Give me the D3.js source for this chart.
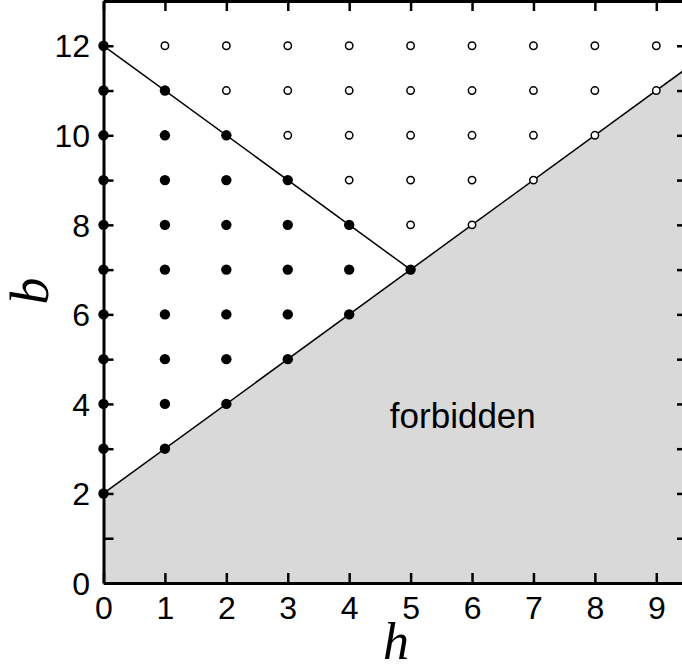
<!DOCTYPE html>
<html>
<head>
<meta charset="utf-8">
<script src="https://cdn.jsdelivr.net/npm/d3@7"></script>
<style>
  body { margin: 0; background: #fff; }
  svg { display: block; }
</style>
</head>
<body>
<svg width="682" height="665"></svg>
<script>
// Allowed states (filled) and other states (open), as [h, b] pairs
var filledPoints = [
  [0, 2], [0, 3], [0, 4], [0, 5], [0, 6], [0, 7], [0, 8], [0, 9], [0, 10], [0, 11], [0, 12],
  [1, 3], [1, 4], [1, 5], [1, 6], [1, 7], [1, 8], [1, 9], [1, 10], [1, 11],
  [2, 4], [2, 5], [2, 6], [2, 7], [2, 8], [2, 9], [2, 10],
  [3, 5], [3, 6], [3, 7], [3, 8], [3, 9],
  [4, 6], [4, 7], [4, 8],
  [5, 7]
];
var openPoints = [
  [1, 12],
  [2, 11], [2, 12],
  [3, 10], [3, 11], [3, 12],
  [4, 9], [4, 10], [4, 11], [4, 12],
  [5, 8], [5, 9], [5, 10], [5, 11], [5, 12],
  [6, 8], [6, 9], [6, 10], [6, 11], [6, 12],
  [7, 9], [7, 10], [7, 11], [7, 12],
  [8, 10], [8, 11], [8, 12],
  [9, 11], [9, 12]
];
// Boundary lines
var lowerLine = [[0, 2], [9.5, 11.5]];
var upperLine = [[0, 12], [5, 7]];
// Ticks
var xTicks = [0, 1, 2, 3, 4, 5, 6, 7, 8, 9];
var yTicks = [0, 1, 2, 3, 4, 5, 6, 7, 8, 9, 10, 11, 12, 13];
var yLabels = [0, 2, 4, 6, 8, 10, 12];

var svg = d3.select('svg');

var margin = { left: 103.5, top: 1, right: -5, bottom: 82 };
var width = 682 - margin.left - margin.right;
var height = 665 - margin.top - margin.bottom;

var x = d3.scaleLinear().domain([0, 9.5]).range([0, width]);
var y = d3.scaleLinear().domain([0, 13]).range([height, 0]);

var g = svg.append('g')
  .attr('transform', 'translate(' + margin.left + ',' + margin.top + ')');

var line = d3.line()
  .x(function (d) { return x(d[0]); })
  .y(function (d) { return y(d[1]); });

// Forbidden region (below the lower line)
var forbidden = [[0, 0], lowerLine[0], lowerLine[1], [9.5, 0]];
g.append('path')
  .datum(forbidden)
  .attr('fill', '#d9d9d9')
  .attr('d', line);

g.append('path').datum(lowerLine)
  .attr('fill', 'none').attr('stroke', '#000').attr('stroke-width', 1.5)
  .attr('d', line);
g.append('path').datum(upperLine)
  .attr('fill', 'none').attr('stroke', '#000').attr('stroke-width', 1.5)
  .attr('d', line);

var labelFont = 'Liberation Sans, Arial, sans-serif';

g.append('text')
  .attr('x', x(5.85))
  .attr('y', y(3.47))
  .attr('text-anchor', 'middle')
  .attr('font-family', labelFont)
  .attr('font-size', 35)
  .text('forbidden');

// Axes (ticks point inward, MATLAB style)
var tickLen = 10;

var xAxisBottom = g.append('g')
  .attr('transform', 'translate(0,' + height + ')')
  .call(d3.axisBottom(x).tickValues(xTicks).tickSizeInner(-tickLen).tickSizeOuter(0));
var xAxisTop = g.append('g')
  .call(d3.axisTop(x).tickValues(xTicks).tickSizeInner(-tickLen).tickSizeOuter(0).tickFormat(''));
var yAxisLeft = g.append('g')
  .call(d3.axisLeft(y).tickValues(yTicks).tickSizeInner(-tickLen).tickSizeOuter(0)
    .tickFormat(function (d) { return yLabels.indexOf(d) >= 0 ? d : ''; }));
var yAxisRight = g.append('g')
  .attr('transform', 'translate(' + width + ',0)')
  .call(d3.axisRight(y).tickValues(yTicks).tickSizeInner(-tickLen).tickSizeOuter(0).tickFormat(''));

[xAxisBottom, xAxisTop, yAxisLeft, yAxisRight].forEach(function (a) {
  a.select('.domain').attr('stroke-width', 3);
  a.selectAll('.tick line').attr('stroke-width', 2.5);
  a.selectAll('text')
    .attr('fill', '#000')
    .style('font-size', '32px')
    .style('font-family', labelFont);
});
xAxisBottom.selectAll('text').attr('y', 13).attr('dy', '0.71em');
yAxisLeft.selectAll('text').attr('x', -13.5).attr('dy', '0.35em');

// Points
g.selectAll('.filled')
  .data(filledPoints)
  .enter().append('circle')
  .attr('class', 'filled')
  .attr('cx', function (d) { return x(d[0]); })
  .attr('cy', function (d) { return y(d[1]); })
  .attr('r', 5.2)
  .attr('fill', '#000');

g.selectAll('.open')
  .data(openPoints)
  .enter().append('circle')
  .attr('class', 'open')
  .attr('cx', function (d) { return x(d[0]); })
  .attr('cy', function (d) { return y(d[1]); })
  .attr('r', 3.7)
  .attr('fill', '#fff')
  .attr('stroke', '#000')
  .attr('stroke-width', 1.5);

// Axis labels
svg.append('text')
  .attr('transform', 'translate(48,291) rotate(-90)')
  .attr('text-anchor', 'middle')
  .attr('font-family', 'Liberation Serif, DejaVu Serif, serif')
  .attr('font-style', 'italic')
  .attr('font-size', 54)
  .text('b');

svg.append('text')
  .attr('x', 396)
  .attr('y', 659)
  .attr('text-anchor', 'middle')
  .attr('font-family', 'Liberation Serif, DejaVu Serif, serif')
  .attr('font-style', 'italic')
  .attr('font-size', 52)
  .text('h');
</script>
</body>
</html>
